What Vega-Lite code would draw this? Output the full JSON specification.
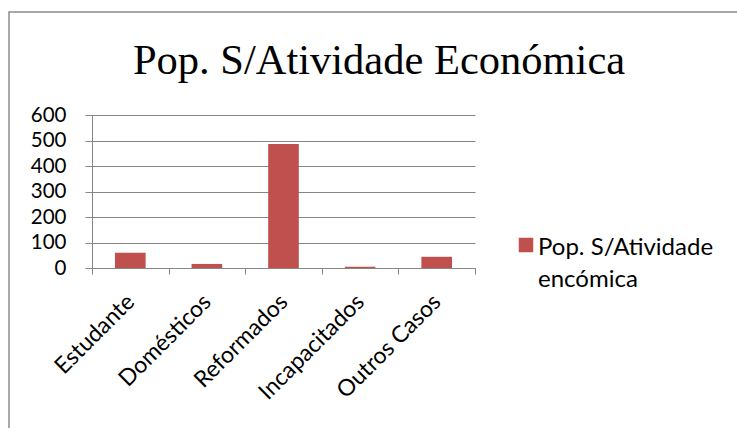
{
  "$schema": "https://vega.github.io/schema/vega-lite/v6.json",
  "width": 730,
  "height": 418,
  "autosize": {"type": "none"},
  "padding": {"left": 9, "top": 12, "right": -2, "bottom": -2},
  "background": "white",
  "config": {"view": {"stroke": "#8c8c8c", "strokeWidth": 1.5}, "font": "Lato"},
  "title": {
    "text": "Pop. S/Atividade Económica",
    "font": "Liberation Serif",
    "fontSize": 42.5,
    "fontWeight": "normal",
    "color": "black",
    "anchor": "middle",
    "frame": "group",
    "baseline": "alphabetic",
    "offset": -104,
    "dx": 5
  },
  "data": {
    "values": [
      {"categoria": "Estudante", "valor": 60},
      {"categoria": "Domésticos", "valor": 16},
      {"categoria": "Reformados", "valor": 486},
      {"categoria": "Incapacitados", "valor": 5},
      {"categoria": "Outros Casos", "valor": 44}
    ]
  },
  "mark": {"type": "bar", "width": {"band": 0.4}},
  "encoding": {
    "x": {
      "field": "categoria",
      "type": "nominal",
      "sort": null,
      "scale": {"range": [83, 466], "paddingInner": 0, "paddingOuter": 0},
      "axis": {
        "title": null,
        "tickBand": "extent",
        "labelAngle": -45,
        "labelAlign": "right",
        "labelBaseline": "middle",
        "labelFontSize": 23,
        "labelColor": "black",
        "labelFont": "Lato",
        "tickSize": 6,
        "tickColor": "#868686",
        "domainColor": "#868686",
        "offset": -162,
        "labelPadding": 24,
        "grid": false
      }
    },
    "y": {
      "field": "valor",
      "type": "quantitative",
      "scale": {"domain": [0, 600], "range": [256, 103]},
      "axis": {
        "title": null,
        "values": [0, 100, 200, 300, 400, 500, 600],
        "offset": -83,
        "tickSize": 7,
        "labelPadding": 19,
        "labelFontSize": 20.5,
        "labelColor": "black",
        "labelFont": "Lato",
        "grid": true,
        "gridColor": "#868686",
        "domainColor": "#868686",
        "tickColor": "#868686"
      }
    },
    "color": {
      "datum": "Pop. S/Atividade encómica",
      "scale": {"range": ["#C0504D"]},
      "legend": {
        "orient": "none",
        "legendX": 505,
        "legendY": 221,
        "title": null,
        "symbolType": "square",
        "symbolSize": 210,
        "symbolStrokeWidth": 0,
        "labelFontSize": 24,
        "labelColor": "black",
        "labelFont": "Lato",
        "labelOffset": 0,
        "labelLimit": 300,
        "labelBaseline": "top",
        "labelExpr": "['Pop. S/Atividade', 'encómica']",
        "encode": {"labels": {"update": {"lineHeight": {"value": 32}, "dy": {"value": -9}}}}
      }
    }
  }
}
